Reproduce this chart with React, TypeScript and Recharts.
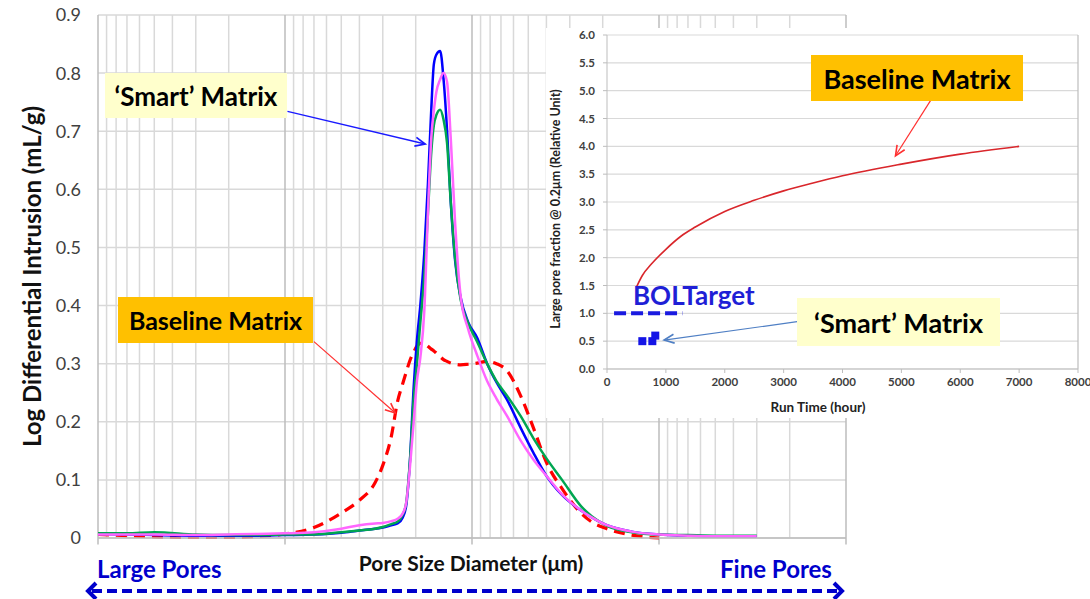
import { CartesianGrid, Line, LineChart, ReferenceLine, XAxis, YAxis } from "recharts";

// ---- Main chart: pore size distribution (x = pore diameter in µm, log, large -> fine) ----
const diameters = [
  10, 7, 5, 3, 2, 1.4, 1, 0.7, 0.5, 0.4, 0.33, 0.3, 0.27, 0.25, 0.235, 0.225, 0.215, 0.205, 0.197, 0.189,
  0.18, 0.172, 0.165, 0.16, 0.155, 0.148, 0.142, 0.136, 0.13, 0.123, 0.115, 0.105, 0.094, 0.083, 0.074,
  0.065, 0.055, 0.047, 0.04, 0.033, 0.026, 0.023, 0.019, 0.014, 0.01, 0.007, 0.005, 0.003,
];
const smartBlue = [
  0.007, 0.006, 0.005, 0.004, 0.004, 0.004, 0.005, 0.006, 0.009, 0.013, 0.016, 0.018, 0.022, 0.025, 0.035,
  0.055, 0.13, 0.26, 0.34, 0.4, 0.49, 0.61, 0.74, 0.815, 0.832, 0.838, 0.79, 0.703, 0.58, 0.476, 0.414,
  0.372, 0.345, 0.3, 0.268, 0.238, 0.19, 0.147, 0.107, 0.074, 0.047, 0.036, 0.022, 0.011, 0.006, 0.004,
  0.003, 0.003,
];
const smartGreen = [
  0.008, 0.008, 0.01, 0.006, 0.005, 0.005, 0.006, 0.006, 0.01, 0.013, 0.016, 0.019, 0.024, 0.028, 0.04,
  0.06, 0.13, 0.24, 0.3, 0.37, 0.45, 0.56, 0.665, 0.71, 0.728, 0.737, 0.72, 0.68, 0.58, 0.48, 0.41, 0.37,
  0.338, 0.3, 0.27, 0.245, 0.21, 0.172, 0.137, 0.1, 0.054, 0.038, 0.021, 0.01, 0.006, 0.005, 0.004, 0.004,
];
const smartPink = [
  0.006, 0.006, 0.006, 0.005, 0.006, 0.007, 0.008, 0.01, 0.016, 0.022, 0.025, 0.026, 0.029, 0.033, 0.042,
  0.06, 0.12, 0.2, 0.27, 0.31, 0.39, 0.56, 0.69, 0.735, 0.768, 0.789, 0.8, 0.785, 0.69, 0.54, 0.416, 0.36,
  0.315, 0.27, 0.24, 0.21, 0.168, 0.135, 0.107, 0.075, 0.047, 0.036, 0.022, 0.011, 0.006, 0.004, 0.003,
  0.003,
];
const baselineRed = [
  0.006, 0.004, 0.002, 0.001, 0.001, 0.003, 0.007, 0.018, 0.043, 0.065, 0.095, 0.125, 0.175, 0.235, 0.265,
  0.285, 0.305, 0.32, 0.33, 0.335, 0.335, 0.33, 0.325, 0.322, 0.318, 0.312, 0.307, 0.304, 0.301, 0.299,
  0.298, 0.299, 0.301, 0.304, 0.3, 0.288, 0.245, 0.19, 0.13, 0.085, 0.042, 0.028, 0.016, 0.005, 0, null,
  null, null,
];
const intrusionTicks = [0, 0.1, 0.2, 0.3, 0.4, 0.5, 0.6, 0.7, 0.8, 0.9];
const diameterGridTicks = [
  0.002, 0.003, 0.004, 0.005, 0.006, 0.007, 0.008, 0.009,
  0.02, 0.03, 0.04, 0.05, 0.06, 0.07, 0.08, 0.09,
  0.2, 0.3, 0.4, 0.5, 0.6, 0.7, 0.8, 0.9,
  2, 3, 4, 5, 6, 7, 8, 9,
];
const decades = [0.001, 0.01, 0.1, 1, 10];

// ---- Inset: large pore fraction vs run time ----
const runHours = [500, 600, 750, 1000, 1250, 1500, 2000, 2500, 3000, 3500, 4000, 5000, 6000, 7000];
const baselineFraction = [1.47, 1.68, 1.88, 2.15, 2.38, 2.55, 2.83, 3.03, 3.2, 3.34, 3.47, 3.68, 3.86, 4.0];
const bolHours = [120, 1280];
const bolFraction = [1, 1];
const smartHours = [600, 770, 820];
const smartFraction = [0.5, 0.5, 0.6];
const runTicks = [0, 1000, 2000, 3000, 4000, 5000, 6000, 7000, 8000];
const fractionTicks = [0, 0.5, 1, 1.5, 2, 2.5, 3, 3.5, 4, 4.5, 5, 5.5, 6];

const poreRows = diameters.map((d, i) => ({
  d,
  red: baselineRed[i],
  blue: smartBlue[i],
  green: smartGreen[i],
  pink: smartPink[i],
}));
const baselineRows = runHours.map((h, i) => ({ h, v: baselineFraction[i] }));
const bolRows = bolHours.map((h, i) => ({ h, v: bolFraction[i] }));
const smartRows = smartHours.map((h, i) => ({ h, v: smartFraction[i] }));

const GRID = "#d9d9d9";
const AXIS = "#bdbdbd";
const TICK_TEXT = "#404040";

// Thin callout arrow with an open head; used as a ReferenceLine shape.
function Arrow(props: any) {
  const { x1, y1, x2, y2, stroke, strokeWidth } = props;
  const a = Math.atan2(y2 - y1, x2 - x1);
  const len = 11;
  const spread = 0.42;
  const p1 = `${x2 - len * Math.cos(a - spread)},${y2 - len * Math.sin(a - spread)}`;
  const p2 = `${x2 - len * Math.cos(a + spread)},${y2 - len * Math.sin(a + spread)}`;
  return (
    <g>
      <line x1={x1} y1={y1} x2={x2} y2={y2} stroke={stroke} strokeWidth={strokeWidth} />
      <polyline points={`${p1} ${x2},${y2} ${p2}`} fill="none" stroke={stroke} strokeWidth={strokeWidth + 0.4} />
    </g>
  );
}

function Callout({ left, top, width, height, bg, text, size }: any) {
  return (
    <div
      style={{
        position: "absolute",
        left,
        top,
        width,
        height,
        background: bg,
        display: "flex",
        alignItems: "center",
        justifyContent: "center",
        fontWeight: 700,
        fontSize: size,
        color: "#000",
        whiteSpace: "nowrap",
      }}
    >
      {text}
    </div>
  );
}

function MainChart() {
  return (
    <div style={{ position: "absolute", left: 0, top: 0 }}>
      <LineChart width={1090} height={599} data={poreRows} margin={{ top: 15, right: 244, bottom: 0, left: 0 }}>
        <CartesianGrid vertical={false} stroke={GRID} strokeWidth={1.5} />
        <XAxis
          dataKey="d"
          type="number"
          scale="log"
          domain={[0.001, 10]}
          reversed
          allowDataOverflow
          ticks={decades}
          tick={false}
          tickLine={false}
          axisLine={{ stroke: AXIS, strokeWidth: 1.5 }}
          height={61}
          label={{
            content: (p: any) => {
              const vb = p.viewBox;
              return (
                <text
                  x={vb.x + vb.width / 2 - 1}
                  y={vb.y + 24}
                  textAnchor="middle"
                  dominantBaseline="central"
                  fontSize={21}
                  fontWeight={700}
                  fill="#111"
                >
                  Pore Size Diameter (μm)
                </text>
              );
            },
          }}
        />
        <YAxis
          type="number"
          domain={[0, 0.9]}
          ticks={intrusionTicks}
          width={98}
          axisLine={false}
          tickLine={false}
          tickSize={6}
          tickMargin={11}
          tick={{ fontSize: 18, fill: TICK_TEXT }}
          tickFormatter={(v: number) => (v === 0 ? "0" : v.toFixed(1))}
          label={{
            content: (p: any) => {
              const vb = p.viewBox;
              const cx = 31;
              const cy = vb.y + vb.height / 2;
              return (
                <text
                  x={cx}
                  y={cy}
                  transform={`rotate(-90, ${cx}, ${cy})`}
                  textAnchor="middle"
                  dominantBaseline="central"
                  fontSize={24}
                  fontWeight={700}
                  fill="#111"
                >
                  Log Differential Intrusion (mL/g)
                </text>
              );
            },
          }}
        />
        {diameterGridTicks.map((d) => (
          <ReferenceLine key={`minor-${d}`} x={d} stroke={GRID} strokeWidth={1.5} />
        ))}
        {decades.map((d) => (
          <ReferenceLine key={`major-${d}`} x={d} stroke={AXIS} strokeWidth={1.5} />
        ))}
        {decades.map((d) => (
          <ReferenceLine
            key={`tick-${d}`}
            segment={[{ x: d, y: 0 }, { x: d, y: -0.011 }]}
            stroke={AXIS}
            strokeWidth={1.5}
            ifOverflow="visible"
          />
        ))}
        <Line dataKey="red" type="monotone" stroke="#ff0000" strokeWidth={3.2} strokeDasharray="11 7" dot={false} isAnimationActive={false} />
        <Line dataKey="blue" type="monotone" stroke="#0000ff" strokeWidth={2.5} dot={false} isAnimationActive={false} />
        <Line dataKey="green" type="monotone" stroke="#00a651" strokeWidth={2.5} dot={false} isAnimationActive={false} />
        <Line dataKey="pink" type="monotone" stroke="#ff66ff" strokeWidth={2.5} dot={false} isAnimationActive={false} />
        {/* callout arrows, anchored in data space */}
        <ReferenceLine
          segment={[{ x: 0.97, y: 0.734 }, { x: 0.178, y: 0.678 }]}
          stroke="#1a1aff"
          strokeWidth={1.3}
          ifOverflow="visible"
          shape={Arrow}
        />
        <ReferenceLine
          segment={[{ x: 0.7, y: 0.338 }, { x: 0.257, y: 0.215 }]}
          stroke="#ff3030"
          strokeWidth={1.2}
          ifOverflow="visible"
          shape={Arrow}
        />
      </LineChart>
    </div>
  );
}

function InsetChart() {
  return (
    <div style={{ position: "absolute", left: 546, top: 28, width: 544, height: 390, background: "#fff" }}>
      <LineChart width={544} height={390} margin={{ top: 7, right: 12, bottom: 0, left: 0 }}>
        <CartesianGrid vertical={false} stroke={GRID} strokeWidth={1.2} />
        <XAxis
          dataKey="h"
          type="number"
          domain={[0, 8000]}
          ticks={runTicks}
          allowDataOverflow
          height={49}
          tickSize={4}
          tickMargin={5}
          stroke={AXIS}
          tick={{ fontSize: 11.5, fontWeight: 700, fill: TICK_TEXT }}
          label={{
            content: (p: any) => {
              const vb = p.viewBox;
              return (
                <text x={272} y={vb.y + 38} textAnchor="middle" dominantBaseline="central" fontSize={13.5} fontWeight={700} fill="#222">
                  Run Time (hour)
                </text>
              );
            },
          }}
        />
        <YAxis
          type="number"
          domain={[0, 6]}
          ticks={fractionTicks}
          width={61}
          tickSize={4}
          tickMargin={8}
          stroke={AXIS}
          tick={{ fontSize: 11.5, fontWeight: 700, fill: TICK_TEXT }}
          tickFormatter={(v: number) => v.toFixed(1)}
          label={{
            content: (p: any) => {
              const vb = p.viewBox;
              const cx = 9;
              const cy = vb.y + vb.height / 2 + 7;
              return (
                <text
                  x={cx}
                  y={cy}
                  transform={`rotate(-90, ${cx}, ${cy})`}
                  textAnchor="middle"
                  dominantBaseline="central"
                  fontSize={12.5}
                  fontWeight={700}
                  fill="#222"
                >
                  Large pore fraction @ 0.2μm (Relative Unit)
                </text>
              );
            },
          }}
        />
        <ReferenceLine x={8000} stroke={AXIS} strokeWidth={1.2} />
        <Line data={baselineRows} dataKey="v" type="monotone" stroke="#d9262b" strokeWidth={1.6} dot={false} isAnimationActive={false} />
        <Line data={bolRows} dataKey="v" type="linear" stroke="#1a1ae0" strokeWidth={4} strokeDasharray="12 5" dot={false} isAnimationActive={false} />
        <Line
          data={smartRows}
          dataKey="v"
          stroke="none"
          isAnimationActive={false}
          dot={(p: any) => <rect key={`sq-${p.index}`} x={p.cx - 4} y={p.cy - 4} width={8} height={8} fill="#1414e6" />}
        />
        <ReferenceLine
          segment={[{ x: 5500, y: 4.83 }, { x: 4900, y: 3.83 }]}
          stroke="#ff3030"
          strokeWidth={1.2}
          ifOverflow="visible"
          shape={Arrow}
        />
        <ReferenceLine
          segment={[{ x: 3230, y: 0.85 }, { x: 970, y: 0.52 }]}
          stroke="#4f7fc4"
          strokeWidth={1.2}
          ifOverflow="visible"
          shape={Arrow}
        />
      </LineChart>
    </div>
  );
}

function PoreDirection() {
  return (
    <>
      <div style={{ position: "absolute", left: 97, top: 554, fontSize: 24, fontWeight: 700, color: "#0000cc" }}>Large Pores</div>
      <div style={{ position: "absolute", left: 720, top: 554, fontSize: 24, fontWeight: 700, color: "#0000cc" }}>Fine Pores</div>
      <svg width={1090} height={599} style={{ position: "absolute", left: 0, top: 0, pointerEvents: "none" }}>
        <line x1={92} y1={591} x2={838} y2={591} stroke="#0000cc" strokeWidth={4} strokeDasharray="10 5" />
        <polyline points="96,583 88,591 96,599" fill="none" stroke="#0000cc" strokeWidth={4} />
        <polyline points="834,583 842,591 834,599" fill="none" stroke="#0000cc" strokeWidth={4} />
      </svg>
    </>
  );
}

export default function App() {
  return (
    <div
      style={{
        position: "absolute",
        left: 0,
        top: 0,
        width: 1090,
        height: 599,
        overflow: "hidden",
        background: "#fff",
        fontFamily: "Lato, 'Open Sans', sans-serif",
      }}
    >
      <MainChart />
      <Callout left={105} top={73} width={182} height={45} bg="#ffffcc" text="‘Smart’ Matrix" size={26} />
      <Callout left={118} top={297} width={195} height={46} bg="#ffc000" text="Baseline Matrix" size={25} />
      <PoreDirection />
      <InsetChart />
      <Callout left={811} top={55} width={212} height={46} bg="#ffc000" text="Baseline Matrix" size={27} />
      <Callout left={797} top={298} width={203} height={48} bg="#ffffcc" text="‘Smart’ Matrix" size={27} />
      <div style={{ position: "absolute", left: 633, top: 279, fontSize: 26, fontWeight: 700, color: "#1f1fd6" }}>BOLTarget</div>
    </div>
  );
}
